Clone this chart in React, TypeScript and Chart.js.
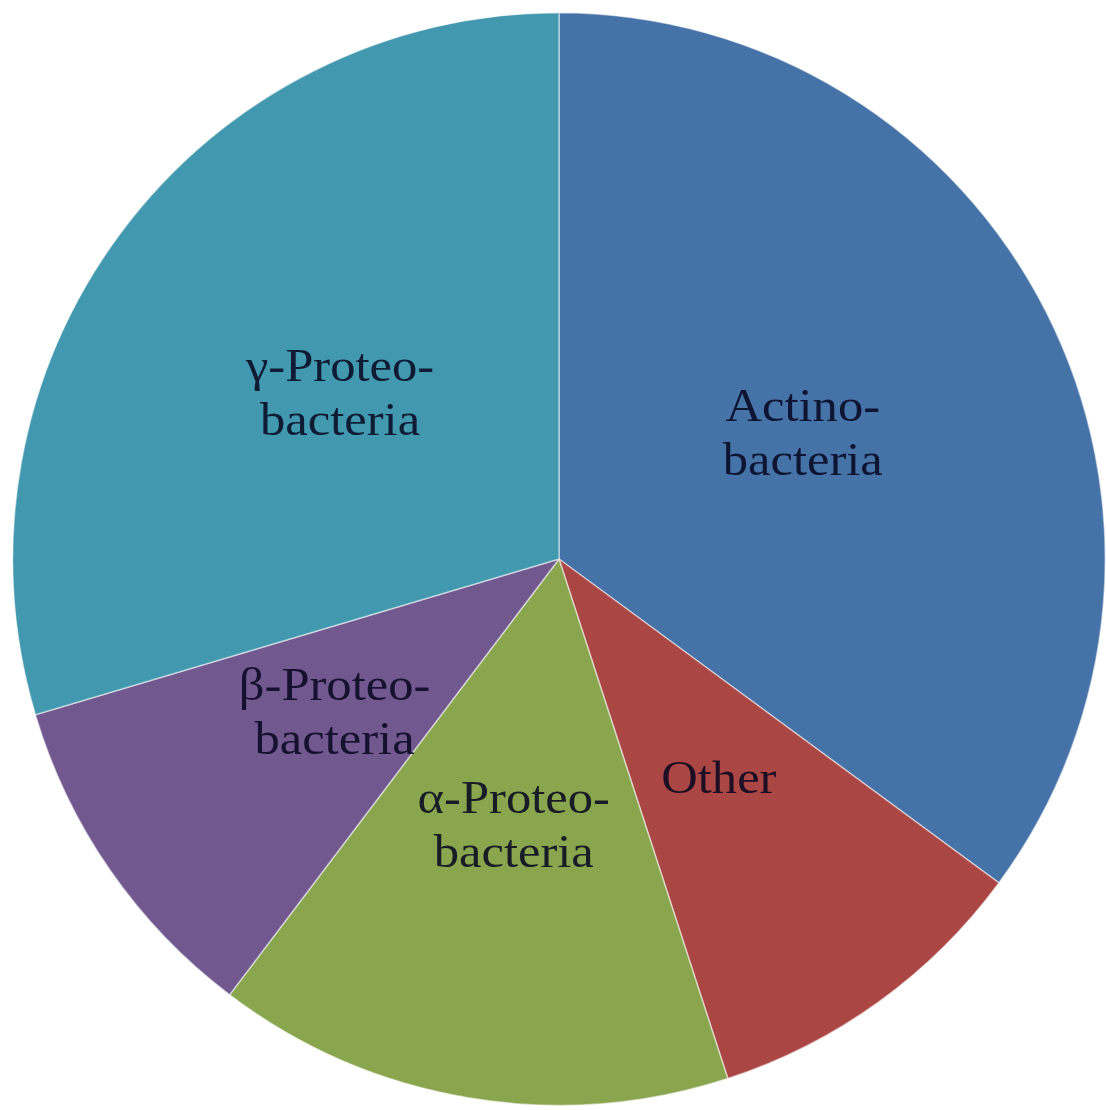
import React, { useEffect, useRef } from "react";
import { Chart, registerables } from "chart.js";

Chart.register(...registerables);

const categories = ["Actinobacteria", "Other", "α-Proteobacteria", "β-Proteobacteria", "γ-Proteobacteria"];
const labelLines = [["Actino-", "bacteria"], ["Other"], ["α-Proteo-", "bacteria"], ["β-Proteo-", "bacteria"], ["γ-Proteo-", "bacteria"]];
const values = [35.1, 9.9, 15.3, 10.1, 29.6];
const colors = ["#4572A7", "#AA4643", "#89A54E", "#71588F", "#4198AF"];

const labelPlugin = {
  id: "sliceLabels",
  afterDatasetsDraw(chart: any) {
    const ctx = chart.ctx;
    const meta = chart.getDatasetMeta(0);
    const sx = 1.1;
    ctx.save();
    ctx.font = "46px 'Liberation Serif', 'Times New Roman', serif";
    ctx.textAlign = "center";
    ctx.textBaseline = "middle";
    ctx.fillStyle = "rgba(5,5,30,0.85)";
    meta.data.forEach((arc: any, i: number) => {
      const p = arc.tooltipPosition();
      const lines = labelLines[i];
      const lh = 54;
      const start = p.y - ((lines.length - 1) * lh) / 2;
      lines.forEach((t, j) => {
        ctx.save();
        ctx.translate(p.x, start + j * lh);
        ctx.scale(sx, 1);
        ctx.fillText(t, 0, 0);
        ctx.restore();
      });
    });
    ctx.restore();
  },
};

export default function App() {
  const ref = useRef<HTMLCanvasElement | null>(null);
  useEffect(() => {
    if (!ref.current) return;
    const chart = new Chart(ref.current, {
      type: "pie",
      data: {
        labels: categories,
        datasets: [
          {
            data: values,
            backgroundColor: colors,
            borderColor: "rgba(255,255,255,0.5)",
            borderWidth: 1.5,
          },
        ],
      },
      options: {
        animation: false,
        responsive: false,
        maintainAspectRatio: false,
        layout: { padding: { left: 12, right: 0, top: 10, bottom: 2 } },
        plugins: { legend: { display: false }, tooltip: { enabled: false } },
      },
      plugins: [labelPlugin],
    });
    return () => chart.destroy();
  }, []);
  return (
    <div style={{ position: "absolute", left: 0, top: 0, width: 1106, height: 1110, background: "#fff" }}>
      <canvas ref={ref} width={1106} height={1110} style={{ width: 1106, height: 1110 }} />
    </div>
  );
}
